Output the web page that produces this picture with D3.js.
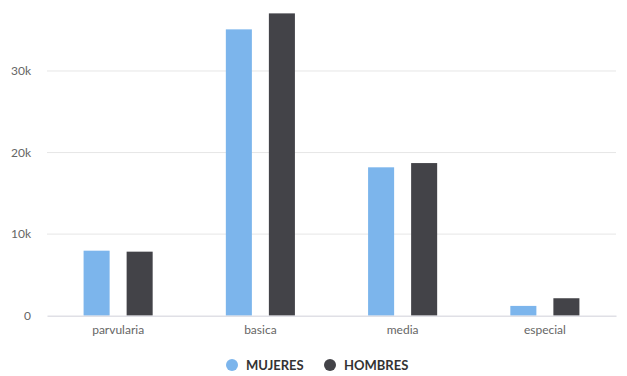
<!DOCTYPE html>
<html><head><meta charset="utf-8">
<script src="https://cdn.jsdelivr.net/npm/d3@7"></script>
<style>body{margin:0;background:#fff;} text{font-family:Lato,sans-serif;}</style>
</head><body>
<svg id="c" width="627" height="376"></svg>
<script>
const categories = ["parvularia", "basica", "media", "especial"];
const seriesNames = ["MUJERES", "HOMBRES"];
const mujeres = [7970, 35100, 18190, 1200];
const hombres = [7850, 37060, 18710, 2140];
const yTicks = [0, 10000, 20000, 30000];
const colors = ["#7cb5ec", "#434348"];

const svg = d3.select("#c");
const m = {left: 47, right: 11};
const W = 627;
const x0 = d3.scaleBand().domain(categories).range([m.left, W - m.right]);
const x1 = d3.scaleBand().domain(seriesNames).range([0, x0.bandwidth()]).paddingInner(0.395).paddingOuter(0.85);
const y = d3.scaleLinear().domain([0, 38700]).range([315.7, 0]);

// grid
svg.append("g").selectAll("line").data(yTicks.filter(d => d > 0)).join("line")
  .attr("x1", m.left).attr("x2", W - m.right)
  .attr("y1", d => y(d)).attr("y2", d => y(d))
  .attr("stroke", "#e6e6e6").attr("stroke-width", 1);

// y labels
const yAxis = svg.append("g").attr("transform", `translate(${m.left},0)`)
  .call(d3.axisLeft(y).tickValues(yTicks).tickSize(0).tickPadding(16)
    .tickFormat(d => d === 0 ? "0" : (d / 1000) + "k"));
yAxis.select(".domain").remove();
yAxis.selectAll("text").attr("fill", "#666").style("font-size", "12px").style("font-family", "Lato");

// bars
const data = categories.map((c, i) => ({c, vals: [mujeres[i], hombres[i]]}));
svg.append("g").selectAll("g").data(data).join("g")
  .attr("transform", d => `translate(${x0(d.c)},0)`)
  .selectAll("rect").data(d => d.vals.map((v, j) => ({s: seriesNames[j], v, j}))).join("rect")
  .attr("x", d => x1(d.s)).attr("width", x1.bandwidth())
  .attr("y", d => y(d.v)).attr("height", d => y(0) - y(d.v))
  .attr("fill", d => colors[d.j]);

// x axis
const xAxis = svg.append("g").attr("transform", `translate(0,${y(0)})`)
  .call(d3.axisBottom(x0).tickSize(0).tickPadding(10));
xAxis.select(".domain").attr("stroke", "#e0e0e6").attr("stroke-width", 1.5);
xAxis.selectAll("text").attr("fill", "#666").style("font-size", "12px").style("font-family", "Lato");

// legend
const leg = svg.append("g").attr("transform", "translate(0,365)");
const legX = [232, 330];
seriesNames.forEach((s, i) => {
  leg.append("circle").attr("cx", legX[i]).attr("cy", 0).attr("r", 6).attr("fill", colors[i]);
  leg.append("text").attr("x", legX[i] + 14).attr("y", 0).attr("dy", "0.35em")
    .attr("fill", "#333").style("font-size", "13px").style("font-weight", "bold").text(s);
});
</script>
</body></html>
